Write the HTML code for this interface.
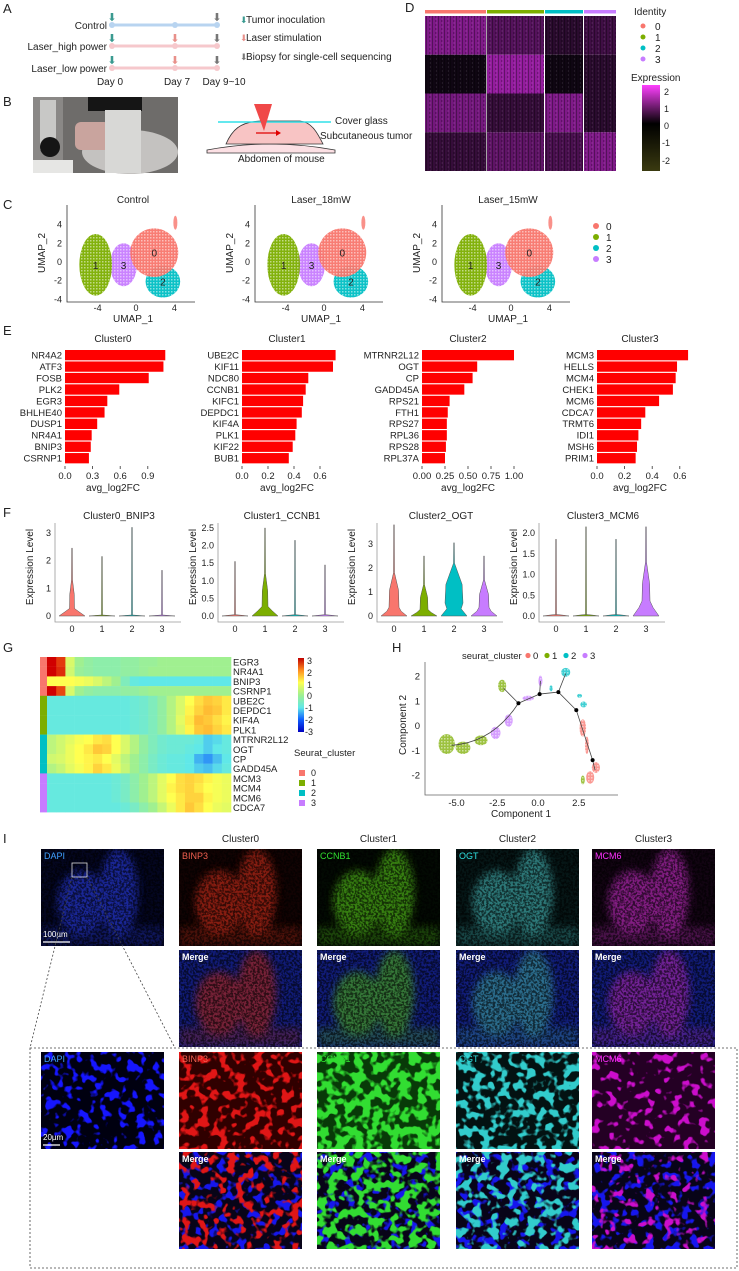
<!DOCTYPE html>
<html><head><meta charset="utf-8">
<style>
html,body{margin:0;padding:0;background:#fff;}
svg{display:block;font-family:"Liberation Sans",Arial,sans-serif;}
</style></head>
<body>
<svg id="fig" width="739" height="1271" viewBox="0 0 739 1271" xmlns="http://www.w3.org/2000/svg">
<defs>
  <pattern id="stripes" width="6" height="4" patternUnits="userSpaceOnUse">
    <rect x="0" y="0" width="1" height="4" fill="#000" opacity="0.35"/>
    <rect x="3" y="0" width="1" height="2" fill="#000" opacity="0.25"/>
    <rect x="4" y="2" width="1" height="2" fill="#fff" opacity="0.08"/>
  </pattern>
  <pattern id="speck" width="3" height="3" patternUnits="userSpaceOnUse">
    <rect width="1.5" height="1.5" fill="#fff" opacity="0.5"/>
  </pattern>
  <filter id="blur3"><feGaussianBlur stdDeviation="4"/></filter>
  <filter id="nFine" x="0" y="0" width="100%" height="100%">
    <feTurbulence type="fractalNoise" baseFrequency="0.45" numOctaves="2" seed="3"/>
    <feColorMatrix values="0 0 0 0 0  0 0 0 0 0  0 0 0 0 0  5 0 0 0 -2.0"/>
  </filter>
  <linearGradient id="exprBar" x1="0" y1="0" x2="0" y2="1">
    <stop offset="0" stop-color="#ff40ff"/><stop offset="0.45" stop-color="#000"/><stop offset="1" stop-color="#3a3a10"/>
  </linearGradient>
  <linearGradient id="gBar" x1="0" y1="0" x2="0" y2="1">
    <stop offset="0" stop-color="#c00000"/><stop offset="0.17" stop-color="#ff9020"/><stop offset="0.33" stop-color="#ffff50"/><stop offset="0.5" stop-color="#a0f090"/><stop offset="0.67" stop-color="#60e8e8"/><stop offset="0.83" stop-color="#1060ff"/><stop offset="1" stop-color="#0000c0"/>
  </linearGradient>
</defs>

<!-- Panel A -->
<g font-size="10" fill="#222">
  <text x="3" y="13" font-size="13">A</text>
  <line x1="112" y1="25" x2="217" y2="25" stroke="#b8d4f0" stroke-width="3"/>
  <line x1="112" y1="46" x2="217" y2="46" stroke="#f6c8cc" stroke-width="3"/>
  <line x1="112" y1="68" x2="217" y2="68" stroke="#f6c8cc" stroke-width="3"/>
  <g fill="#b8d4f0"><circle cx="112" cy="25" r="3"/><circle cx="175" cy="25" r="3"/><circle cx="217" cy="25" r="3"/></g>
  <g fill="#f6c8cc"><circle cx="112" cy="46" r="3"/><circle cx="175" cy="46" r="3"/><circle cx="217" cy="46" r="3"/><circle cx="112" cy="68" r="3"/><circle cx="175" cy="68" r="3"/><circle cx="217" cy="68" r="3"/></g>
  <g font-size="11" text-anchor="middle">
    <text x="112" y="21" fill="#3a9a90">⬇</text><text x="217" y="21" fill="#777">⬇</text>
    <text x="112" y="42" fill="#3a9a90">⬇</text><text x="175" y="42" fill="#e8908a">⬇</text><text x="217" y="42" fill="#777">⬇</text>
    <text x="112" y="64" fill="#3a9a90">⬇</text><text x="175" y="64" fill="#e8908a">⬇</text><text x="217" y="64" fill="#777">⬇</text>
  </g>
  <text x="107" y="29" text-anchor="end">Control</text>
  <text x="107" y="50" text-anchor="end">Laser_high power</text>
  <text x="107" y="72" text-anchor="end">Laser_low power</text>
  <text x="110" y="85" text-anchor="middle">Day 0</text>
  <text x="177" y="85" text-anchor="middle">Day 7</text>
  <text x="224" y="85" text-anchor="middle">Day 9~10</text>
  <text x="240" y="23" fill="#3a9a90" font-size="9">⬇</text><text x="246" y="23">Tumor inoculation</text>
  <text x="240" y="41" fill="#e8908a" font-size="9">⬇</text><text x="246" y="41">Laser stimulation</text>
  <text x="240" y="60" fill="#777" font-size="9">⬇</text><text x="246" y="60">Biopsy for single-cell sequencing</text>
</g>

<!-- Panel B -->
<g>
  <text x="3" y="106" font-size="13" fill="#222">B</text>
  <g>
    <rect x="33" y="97" width="145" height="76" fill="#6e6c6a"/>
    <rect x="88" y="97" width="54" height="14" fill="#151515"/>
    <rect x="33" y="97" width="30" height="76" fill="#8a8886"/>
    <rect x="40" y="100" width="16" height="50" fill="#c8c8c6"/>
    <circle cx="50" cy="147" r="10" fill="#151515"/>
    <ellipse cx="130" cy="152" rx="48" ry="22" fill="#c4c2c0"/>
    <rect x="75" y="122" width="35" height="28" fill="#c9a49e" rx="6"/>
    <rect x="105" y="110" width="36" height="63" fill="#d8d8d6"/>
    <rect x="33" y="160" width="40" height="13" fill="#e6e6e4"/>
  </g>
  <g>
    <path d="M207,150 Q270,138 335,150 L335,153 L207,153 Z" fill="#fce0e4" stroke="#333" stroke-width="0.8"/>
    <path d="M226,144 C232,130 240,122 260,121 L300,121 C312,122 318,134 323,144 Z" fill="#f8c4c4" stroke="#333" stroke-width="0.8"/>
    <line x1="218" y1="122" x2="331" y2="122" stroke="#30e0e8" stroke-width="1.5"/>
    <polygon points="254,104 272,104 264,131" fill="#f04848"/>
    <line x1="256" y1="133" x2="276" y2="133" stroke="#e00000" stroke-width="1.2"/>
    <polygon points="276,130 281,133 276,136" fill="#e00000"/>
    <text x="335" y="124" font-size="10" fill="#222">Cover glass</text>
    <text x="320" y="139" font-size="10" fill="#222">Subcutaneous tumor</text>
    <text x="238" y="162" font-size="10" fill="#222">Abdomen of mouse</text>
  </g>
</g>

<!-- Panel D -->
<g id="panelD">
  <text x="405" y="12" font-size="13" fill="#222">D</text>
  <text x="634" y="15" font-size="10" fill="#222">Identity</text>
  <text x="631" y="81" font-size="10" fill="#222">Expression</text>
  <rect x="642" y="85" width="18" height="86" fill="url(#exprBar)"/>
  <g font-size="9" fill="#222"><text x="664" y="95">2</text><text x="664" y="112">1</text><text x="664" y="129">0</text><text x="662" y="146">-1</text><text x="662" y="164">-2</text></g>
</g>

<g id="panelC">
  <text x="3" y="209" font-size="13" fill="#222">C</text>
</g>
<g id="panelE">
  <text x="3" y="335" font-size="13" fill="#222">E</text>
</g>
<g id="panelF">
  <text x="3" y="517" font-size="13" fill="#222">F</text>
</g>
<g id="panelG">
  <text x="3" y="652" font-size="13" fill="#222">G</text>
  <rect x="298" y="658" width="6" height="74" fill="url(#gBar)"/>
  <g font-size="9" fill="#222"><text x="307" y="664">3</text><text x="307" y="676">2</text><text x="307" y="688">1</text><text x="307" y="699">0</text><text x="305" y="711">-1</text><text x="305" y="723">-2</text><text x="305" y="735">-3</text></g>
  <text x="294" y="756" font-size="9.5" fill="#222">Seurat_cluster</text>
</g>
<g id="panelH">
  <text x="392" y="652" font-size="13" fill="#222">H</text>
</g>
<g id="panelI">
  <text x="3" y="843" font-size="13" fill="#222">I</text>
</g>
</svg>

<script>
const NS='http://www.w3.org/2000/svg';
function mk(tag,attrs,parent){const e=document.createElementNS(NS,tag);for(const k in attrs)e.setAttribute(k,attrs[k]);(parent||document.getElementById('fig')).appendChild(e);return e;}
function txt(s,attrs,parent){const e=mk('text',attrs,parent);e.textContent=s;return e;}
const CL=['#f8766d','#7cae00','#00bfc4','#c77cff'];

/* ===== Panel D ===== */
const dColGroups=[0,1,2,3];
const dColWidths=[62,58,39,33];
const dRowMeans=[[1.1,0.7,0.3,0.5],[0.05,1.3,0.05,0.3],[1.0,0.4,1.1,0.3],[0.4,0.8,0.6,1.1]];
(function(){
  const g=document.getElementById('panelD');
  const x0=425,y0=16,rh=38.75;
  let x=x0;
  dColGroups.forEach((c,ci)=>{
    const w=dColWidths[ci];
    const b=mk('rect',{x:x,y:10,width:w-1,height:3.5,fill:CL[c]},g);
    
    
    dRowMeans.forEach((row,ri)=>{
      const v=row[ci];const t=Math.min(1,v/1.6);
      const r=Math.round(10+t*170),gg=Math.round(5+t*30),bb=Math.round(12+t*180);
      const cell=mk('rect',{x:x,y:y0+ri*rh,width:w-1,height:rh,fill:`rgb(${r},${gg},${bb})`},g);
      
      
    });
    x+=w;
  });
  mk('rect',{x:x0,y:y0,width:192,height:155,fill:'url(#stripes)'},g);
  [0,1,2,3].forEach(i=>{
    const d=mk('circle',{cx:643,cy:26+i*11,r:2.5,fill:CL[i]},g);
    
    
    txt(String(i),{x:655,y:30+i*11,'font-size':10,fill:'#222'},g);
  });
})();

/* ===== Panel C ===== */
const umapTitles=['Control','Laser_18mW','Laser_15mW'];
const umapLefts=[67,255,442];
const clusterCx=[1.9,-4.2,2.8,-1.3];
const clusterCy=[1.0,-0.3,-2.1,-0.3];
const clusterRx=[2.5,1.7,1.8,1.4];
const clusterRy=[2.6,3.3,1.7,2.3];
const umapYTicks=[-4,-2,0,2,4];
const umapXTicks=[-4,0,4];
(function(){
  const g=document.getElementById('panelC');
  umapLefts.forEach((L,pi)=>{
    const sx=v=>L+69+v*9.6, sy=v=>262-v*9.35;
    txt(umapTitles[pi],{x:L+66,y:203,'text-anchor':'middle','font-size':10,fill:'#222'},g);
    const ax=mk('path',{d:`M${L},205 V302 H${L+128}`,stroke:'#333','stroke-width':0.8,fill:'none'},g);
    
    
    umapYTicks.forEach(t=>txt(String(t),{x:L-5,y:sy(t)+3,'text-anchor':'end','font-size':9,fill:'#222'},g));
    umapXTicks.forEach(t=>txt(String(t),{x:sx(t),y:311,'text-anchor':'middle','font-size':9,fill:'#222'},g));
    txt('UMAP_1',{x:L+66,y:322,'text-anchor':'middle','font-size':10,fill:'#222'},g);
    txt('UMAP_2',{x:0,y:0,'text-anchor':'middle','font-size':10,fill:'#222',transform:`translate(${L-22},253) rotate(-90)`},g);
    [2,3,0,1].forEach(c=>{
      const e=mk('ellipse',{cx:sx(clusterCx[c]),cy:sy(clusterCy[c]),rx:clusterRx[c]*9.6,ry:clusterRy[c]*9.35,fill:CL[c],opacity:0.95},g);
      
      
      mk('ellipse',{cx:sx(clusterCx[c]),cy:sy(clusterCy[c]),rx:clusterRx[c]*9.6,ry:clusterRy[c]*9.35,fill:'url(#speck)'},g);
    });
    mk('ellipse',{cx:sx(4.1),cy:sy(4.2),rx:2,ry:7,fill:CL[0],opacity:0.8},g);
    [1,3,0,2].forEach((c)=>txt(String(c),{x:sx(clusterCx[c]),y:sy(clusterCy[c])+4,'text-anchor':'middle','font-size':10,fill:'#222'},g));
  });
  [0,1,2,3].forEach(i=>{
    const d=mk('circle',{cx:596,cy:226+i*11,r:3,fill:CL[i]},g);
    
    
    txt(String(i),{x:606,y:230+i*11,'font-size':10,fill:'#222'},g);
  });
})();

/* ===== Panel E ===== */
const eTitles=['Cluster0','Cluster1','Cluster2','Cluster3'];
const eGenes0=['NR4A2','ATF3','FOSB','PLK2','EGR3','BHLHE40','DUSP1','NR4A1','BNIP3','CSRNP1'];
const eVals0=[1.09,1.07,0.91,0.59,0.46,0.43,0.35,0.29,0.28,0.26];
const eGenes1=['UBE2C','KIF11','NDC80','CCNB1','KIFC1','DEPDC1','KIF4A','PLK1','KIF22','BUB1'];
const eVals1=[0.72,0.70,0.51,0.49,0.47,0.46,0.42,0.41,0.39,0.36];
const eGenes2=['MTRNR2L12','OGT','CP','GADD45A','RPS21','FTH1','RPS27','RPL36','RPS28','RPL37A'];
const eVals2=[1.0,0.6,0.55,0.46,0.3,0.28,0.27,0.27,0.26,0.25];
const eGenes3=['MCM3','HELLS','MCM4','CHEK1','MCM6','CDCA7','TRMT6','IDI1','MSH6','PRIM1'];
const eVals3=[0.66,0.58,0.57,0.55,0.45,0.35,0.32,0.30,0.29,0.28];
const eTicks0=[0,0.3,0.6,0.9], eTickLabels0=['0.0','0.3','0.6','0.9'];
const eTicks1=[0,0.2,0.4,0.6], eTickLabels1=['0.0','0.2','0.4','0.6'];
const eTicks2=[0,0.25,0.5,0.75,1], eTickLabels2=['0.00','0.25','0.50','0.75','1.00'];
const eTicks3=[0,0.2,0.4,0.6], eTickLabels3=['0.0','0.2','0.4','0.6'];
(function(){
  const g=document.getElementById('panelE');
  const cfg=[[65,92,eGenes0,eVals0,eTicks0,eTickLabels0,113],[242,130,eGenes1,eVals1,eTicks1,eTickLabels1,287],[422,92,eGenes2,eVals2,eTicks2,eTickLabels2,468],[597,138,eGenes3,eVals3,eTicks3,eTickLabels3,640]];
  cfg.forEach((c,pi)=>{
    const [x0,k,genes,vals,ticks,tl,cx]=c;
    const sx=v=>x0+v*k;
    txt(eTitles[pi],{x:cx,y:342,'text-anchor':'middle','font-size':10,fill:'#222'},g);
    genes.forEach((gn,i)=>{
      const y=350+i*11.45;
      const b=mk('rect',{x:sx(0),y:y,width:sx(vals[i])-sx(0),height:10.3,fill:'#ff0000'},g);
      
      
      txt(gn,{x:x0-3,y:y+8.5,'text-anchor':'end','font-size':9.5,fill:'#222'},g);
    });
    ticks.forEach((t,i)=>{
      mk('line',{x1:sx(t),y1:466,x2:sx(t),y2:469,stroke:'#333','stroke-width':0.8},g);
      txt(tl[i],{x:sx(t),y:479,'text-anchor':'middle','font-size':9.5,fill:'#222'},g);
    });
    txt('avg_log2FC',{x:cx,y:491,'text-anchor':'middle','font-size':10,fill:'#222'},g);
  });
})();

/* ===== Panel F ===== */
const fTitles=['Cluster0_BNIP3','Cluster1_CCNB1','Cluster2_OGT','Cluster3_MCM6'];
const fMax0=[2.45,2.15,3.2,1.65], fBody0=[1.3,0.05,0.05,0.05], fBodyW0=[2.5,0.5,0.5,0.5], fBase0=[0.15,0.02,0.02,0.02];
const fMax1=[1.55,2.5,2.15,1.45], fBody1=[0.05,1.2,0.05,0.05], fBodyW1=[0.5,3,0.5,0.5], fBase1=[0.02,0.15,0.02,0.02];
const fMax2=[3.8,2.5,3.05,2.5], fBody2=[1.8,1.3,2.2,1.5], fBodyW2=[5,4,9,5], fBase2=[0.2,0.15,0.3,0.2];
const fMax3=[1.85,2.15,1.85,2.15], fBody3=[0.05,0.05,0.05,1.3], fBodyW3=[0.5,0.5,0.5,4], fBase3=[0.02,0.02,0.02,0.2];
const fYT0=[0,1,2,3], fYL0=['0','1','2','3'];
const fYT1=[0,0.5,1,1.5,2,2.5], fYL1=['0.0','0.5','1.0','1.5','2.0','2.5'];
const fYT2=[0,1,2,3], fYL2=['0','1','2','3'];
const fYT3=[0,0.5,1,1.5,2], fYL3=['0.0','0.5','1.0','1.5','2.0'];
const fCats=['0','1','2','3'];
(function(){
  const g=document.getElementById('panelF');
  const cfg=[[55,27.7,fMax0,fBody0,fBodyW0,fBase0,fYT0,fYL0],[218,35.2,fMax1,fBody1,fBodyW1,fBase1,fYT1,fYL1],[377,24,fMax2,fBody2,fBodyW2,fBase2,fYT2,fYL2],[539,41.5,fMax3,fBody3,fBodyW3,fBase3,fYT3,fYL3]];
  cfg.forEach((c,pi)=>{
    const [L,k,mx,bd,bw,bs,yt,yl]=c;
    const sy=v=>616-v*k, sx=i=>L+17+i*30;
    txt(fTitles[pi],{x:L+64,y:519,'text-anchor':'middle','font-size':10,fill:'#222'},g);
    const ax=mk('path',{d:`M${L},523 V622 H${L+126}`,stroke:'#999','stroke-width':0.8,fill:'none'},g);
    
    
    yt.forEach((t,i)=>txt(yl[i],{x:L-4,y:sy(t)+3,'text-anchor':'end','font-size':9,fill:'#222'},g));
    fCats.forEach((cn,i)=>txt(cn,{x:sx(i),y:632,'text-anchor':'middle','font-size':9,fill:'#222'},g));
    txt('Expression Level',{x:0,y:0,'text-anchor':'middle','font-size':10,fill:'#222',transform:`translate(${L-22},567) rotate(-90)`},g);
    fCats.forEach((cn,i)=>{
      const x=sx(i), W=13;
      const pts=[[0,W],[bs[i],W*0.55],[bs[i]*1.8,bw[i]],[bd[i]*0.6,bw[i]*0.9],[bd[i],0.5],[mx[i],0.3]];
      let d='M'+x+','+sy(0);
      pts.forEach(p=>d+=' L'+(x+p[1])+','+sy(p[0]));
      pts.slice().reverse().forEach(p=>d+=' L'+(x-p[1])+','+sy(p[0]));
      d+='Z';
      const v=mk('path',{d:d,fill:CL[i],stroke:'#555','stroke-width':0.5},g);
      
      
    });
  });
})();

/* ===== Panel G ===== */
const gGenes=['EGR3','NR4A1','BNIP3','CSRNP1','UBE2C','DEPDC1','KIF4A','PLK1','MTRNR2L12','OGT','CP','GADD45A','MCM3','MCM4','MCM6','CDCA7'];
const gRowCluster=[0,0,0,0,1,1,1,1,2,2,2,2,3,3,3,3];
const gR0=[3,2.6,0.6,0,-0.2,-0.3,-0.3,-0.3,-0.2,-0.2,-0.1,-0.1,0,0,0,0,0,0,0,0];
const gR1=[3,2.7,0.5,-0.1,-0.2,-0.3,-0.3,-0.3,-0.2,-0.2,-0.1,0,0,0,0,0,0,0,0,0];
const gR2=[1,1,1,0.9,0.8,0.6,0.3,0,-0.5,-0.9,-1,-1,-1,-1,-1,-1,-1,-1,-1,-1];
const gR3=[3,2.5,0.6,0,-0.2,-0.3,-0.3,-0.3,-0.2,-0.2,-0.1,0,0,0,0,0,0,0,0,0];
const gR4=[-0.9,-0.9,-0.9,-0.9,-0.9,-0.9,-0.9,-0.9,-0.9,-0.8,-0.7,-0.5,-0.2,0.2,0.6,1,1.3,1.5,1.4,1.2];
const gR5=[-0.9,-0.9,-0.9,-0.9,-0.9,-0.9,-0.9,-0.9,-0.9,-0.8,-0.7,-0.5,-0.2,0.2,0.6,1.1,1.4,1.6,1.5,1.2];
const gR6=[-0.9,-0.9,-0.9,-0.9,-0.9,-0.9,-0.9,-0.9,-0.9,-0.8,-0.7,-0.5,-0.2,0.2,0.7,1.2,1.6,1.5,1.3,1.1];
const gR7=[-0.9,-0.9,-0.9,-0.9,-0.9,-0.9,-0.9,-0.9,-0.9,-0.8,-0.7,-0.5,-0.2,0.2,0.6,1.1,1.5,1.6,1.4,1.2];
const gR8=[0.3,0.5,0.7,0.9,1.0,1.2,1.3,1.0,0.6,0.2,-0.2,-0.5,-0.7,-0.8,-0.8,-0.8,-0.9,-1.2,-1.1,-0.9];
const gR9=[0.3,0.5,0.8,1.0,1.2,1.5,1.4,1.0,0.6,0.2,-0.2,-0.5,-0.7,-0.8,-0.8,-0.9,-1.0,-1.2,-1.0,-0.9];
const gR10=[0.5,0.6,0.8,1.0,1.1,1.2,1.0,0.7,0.3,0,-0.3,-0.6,-0.8,-0.9,-0.9,-1,-1.4,-1.6,-1.3,-1];
const gR11=[0.2,0.4,0.7,0.9,1.1,1.4,1.2,0.8,0.4,0,-0.3,-0.6,-0.8,-0.9,-0.9,-1,-1.2,-1.3,-1.1,-0.9];
const gR12=[-0.9,-0.9,-0.9,-0.9,-0.9,-0.9,-0.9,-0.8,-0.6,-0.3,0,0.3,0.7,1,1.3,1.4,1.3,1.1,0.9,0.8];
const gR13=[-0.9,-0.9,-0.9,-0.9,-0.9,-0.9,-0.9,-0.8,-0.6,-0.3,0,0.3,0.7,1.1,1.3,1.4,1.2,1.0,0.9,0.8];
const gR14=[-0.9,-0.9,-0.9,-0.9,-0.9,-0.9,-0.9,-0.8,-0.6,-0.3,0,0.3,0.7,1,1.2,1.4,1.4,1.1,0.9,0.8];
const gR15=[-0.9,-0.9,-0.9,-0.9,-0.9,-0.9,-0.9,-0.9,-0.8,-0.6,-0.3,0,0.4,0.8,1.2,1.5,1.3,1.0,0.8,0.7];
const gRows=[gR0,gR1,gR2,gR3,gR4,gR5,gR6,gR7,gR8,gR9,gR10,gR11,gR12,gR13,gR14,gR15];
function gColor(v){
  const st=[[-3,[0,0,204]],[-2,[16,96,255]],[-1,[96,232,232]],[0,[160,240,144]],[1,[255,255,80]],[2,[255,144,32]],[3,[208,0,0]]];
  v=Math.max(-3,Math.min(3,v));
  for(let i=0;i<st.length-1;i++){if(v<=st[i+1][0]){const t=(v-st[i][0]);const a=st[i][1],b=st[i+1][1];return `rgb(${Math.round(a[0]+(b[0]-a[0])*t)},${Math.round(a[1]+(b[1]-a[1])*t)},${Math.round(a[2]+(b[2]-a[2])*t)})`;}}
  return 'rgb(208,0,0)';
}
(function(){
  const g=document.getElementById('panelG');
  const x0=47,y0=657,rh=9.7,cw=184/20;
  gRows.forEach((row,ri)=>{
    const s=mk('rect',{x:40,y:y0+ri*rh,width:7,height:rh+0.2,fill:CL[gRowCluster[ri]]},g);
    
    
    row.forEach((v,ci)=>{
      const c=mk('rect',{x:x0+ci*cw,y:y0+ri*rh,width:cw+0.3,height:rh+0.2,fill:gColor(v)},g);
      
      
    });
    txt(gGenes[ri],{x:233,y:y0+ri*rh+8.5,'font-size':9.5,fill:'#222'},g);
  });
  [0,1,2,3].forEach(i=>{
    const r=mk('rect',{x:299,y:770+i*10,width:6,height:6,fill:CL[i]},g);
    
    
    txt(String(i),{x:311,y:776+i*10,'font-size':9,fill:'#222'},g);
  });
})();

/* ===== Panel H ===== */
const hNodeX=[-1.2,0.1,1.25,2.35,3.35];
const hNodeY=[0.9,1.27,1.35,0.62,-1.4];
const hBlobX=[-5.6,-4.6,-3.5,-2.6,-1.8,-2.2,0.15,1.7,0.8,2.8,2.55,2.75,3.0,3.55,3.2,2.75,-0.6];
const hBlobY=[-0.75,-0.9,-0.6,-0.3,0.2,1.6,1.8,2.15,1.5,0.85,1.2,-0.1,-0.8,-1.7,-2.1,-2.2,1.1];
const hBlobRx=[0.5,0.45,0.4,0.3,0.25,0.25,0.12,0.28,0.1,0.2,0.15,0.2,0.12,0.25,0.25,0.12,0.35];
const hBlobRy=[0.4,0.25,0.2,0.25,0.25,0.25,0.22,0.18,0.12,0.12,0.08,0.35,0.35,0.22,0.25,0.18,0.1];
const hBlobC=[1,1,1,3,3,1,3,2,2,2,2,0,0,0,0,1,3];
const hXT=[-5,-2.5,0,2.5], hXL=['-5.0','-2.5','0.0','2.5'];
const hYT=[-2,-1,0,1,2];
(function(){
  const g=document.getElementById('panelH');
  const sx=v=>538+v*16.3, sy=v=>725.5-v*24.75;
  const ax=mk('path',{d:'M425,662 V795 H618',stroke:'#666','stroke-width':0.8,fill:'none'},g);
  
  
  hYT.forEach(t=>txt(String(t),{x:420,y:sy(t)+3.5,'text-anchor':'end','font-size':9.5,fill:'#222'},g));
  hXT.forEach((t,i)=>txt(hXL[i],{x:sx(t),y:806,'text-anchor':'middle','font-size':9.5,fill:'#222'},g));
  txt('Component 1',{x:521,y:817,'text-anchor':'middle','font-size':10,fill:'#222'},g);
  txt('Component 2',{x:0,y:0,'text-anchor':'middle','font-size':10,fill:'#222',transform:'translate(406,725) rotate(-90)'},g);
  txt('seurat_cluster',{x:462,y:659,'font-size':9.5,fill:'#222'},g);
  [0,1,2,3].forEach(i=>{
    const d=mk('circle',{cx:528+i*19,cy:655.5,r:2.6,fill:CL[i]},g);
    
    
    txt(String(i),{x:533+i*19,y:659,'font-size':9.5,fill:'#222'},g);
  });
  hBlobX.forEach((x,i)=>{
    const e=mk('ellipse',{cx:sx(x),cy:sy(hBlobY[i]),rx:hBlobRx[i]*16.3,ry:hBlobRy[i]*24.75,fill:CL[hBlobC[i]],opacity:0.75},g);
    
    
    mk('ellipse',{cx:sx(x),cy:sy(hBlobY[i]),rx:hBlobRx[i]*16.3,ry:hBlobRy[i]*24.75,fill:'url(#speck)'},g);
  });
  const p=mk('path',{d:`M${sx(-5.3)},${sy(-0.8)} Q${sx(-2.8)},${sy(-0.7)} ${sx(hNodeX[0])},${sy(hNodeY[0])} L${sx(hNodeX[1])},${sy(hNodeY[1])} L${sx(hNodeX[2])},${sy(hNodeY[2])} L${sx(hNodeX[3])},${sy(hNodeY[3])} L${sx(hNodeX[4])},${sy(hNodeY[4])} L${sx(3.5)},${sy(-1.8)} M${sx(hNodeX[0])},${sy(hNodeY[0])} L${sx(-2.1)},${sy(1.5)} M${sx(hNodeX[1])},${sy(hNodeY[1])} L${sx(0.15)},${sy(1.8)} M${sx(hNodeX[2])},${sy(hNodeY[2])} L${sx(1.7)},${sy(2.1)}`,stroke:'#444','stroke-width':0.8,fill:'none'},g);
  
  
  hNodeX.forEach((x,i)=>{
    const n=mk('circle',{cx:sx(x),cy:sy(hNodeY[i]),r:2,fill:'#000'},g);
    
    
  });
})();

/* ===== Panel I ===== */
(function(){
  const g=document.getElementById('panelI');
  const colX=[41,179,317,456,592], rowY=[849,950,1052,1152], W=123, H=97;
  const colTitles=['Cluster0','Cluster1','Cluster2','Cluster3'];
  colTitles.forEach((t,i)=>txt(t,{x:colX[i+1]+W/2,y:842,'text-anchor':'middle','font-size':10,fill:'#222'},g));
  const markers=['DAPI','BINP3','CCNB1','OGT','MCM6'];
  const mColors=['#2030c0','#b02818','#48a818','#3a9a9a','#a828a8'];
  const mBg=['#040620','#120303','#030a03','#061616','#120412'];
  const zColors=['#1414ff','#e01414','#30dd30','#30cccc','#cc10cc'];
  const zBg=['#000010','#300000','#083a08','#031212','#240024'];
  const zOff=[4.8,4.6,4.0,4.4,5.0];
  const lblCol=['#40a0ff','#f06050','#30e030','#30e0e0','#ff30ff'];
  let cid=0;
  function clipRect(x,y){cid++;const cp=mk('clipPath',{id:'cp'+cid},g);mk('rect',{x:x,y:y,width:W,height:H},cp);return 'url(#cp'+cid+')';}
  function tissue(x,y,bg,col,overBlue){
    const gg=mk('g',{'clip-path':clipRect(x,y)},g);
    mk('rect',{x:x,y:y,width:W,height:H,fill:bg},gg);
    if(overBlue) mk('rect',{x:x,y:y,width:W,height:H,fill:'#1828a0',opacity:0.6},gg);
    const lobes=mk('g',{filter:'url(#blur3)',opacity:overBlue?0.65:0.75},gg);
    mk('ellipse',{cx:x+0.33*W,cy:y+0.55*H,rx:0.2*W,ry:0.33*H,fill:col},lobes);
    mk('ellipse',{cx:x+0.63*W,cy:y+0.45*H,rx:0.16*W,ry:0.45*H,fill:col},lobes);
    mk('rect',{x:x,y:y+0.8*H,width:W,height:0.2*H,fill:col,opacity:0.5},lobes);
    mk('rect',{x:x,y:y,width:W,height:H,filter:'url(#nFine)',opacity:0.6},gg);
    return gg;
  }
  function noiseLayer(gg,x,y,col,off,seed,op){
    const fid='fc'+(++cid);
    const f=mk('filter',{id:fid,x:0,y:0,width:'100%',height:'100%'},g);
    mk('feTurbulence',{type:'fractalNoise',baseFrequency:'0.11',numOctaves:'2',seed:String(seed),result:'n'},f);
    mk('feColorMatrix',{in:'n',values:'0 0 0 0 0  0 0 0 0 0  0 0 0 0 0  9 0 0 0 -'+off,result:'a'},f);
    mk('feFlood',{'flood-color':col,result:'c'},f);
    mk('feComposite',{in:'c',in2:'a',operator:'in'},f);
    mk('rect',{x:x,y:y,width:W,height:H,filter:'url(#'+fid+')',opacity:op},gg);
  }
  function cells(x,y,bg,col,off,blue,seed){
    const gg=mk('g',{'clip-path':clipRect(x,y)},g);
    mk('rect',{x:x,y:y,width:W,height:H,fill:bg},gg);
    if(blue) noiseLayer(gg,x,y,'#1818ee',4.8,seed+11,1);
    noiseLayer(gg,x,y,col,off,seed,1);
    return gg;
  }
  function label(x,y,s,c,bold){txt(s,{x:x+3,y:y+10,'font-size':9,fill:c,'font-weight':bold?'bold':'normal'},g);}
  function named(e,n){}
  markers.forEach((m,i)=>{
    const e=tissue(colX[i],rowY[0],mBg[i],mColors[i],false);
    named(e,'image-'+m.toLowerCase()+'-overview');
    label(colX[i],rowY[0],m,lblCol[i],false);
  });
  for(let i=1;i<5;i++){
    const e=tissue(colX[i],rowY[1],'#080c40',mColors[i],true);
    named(e,'image-merge-'+markers[i].toLowerCase()+'-overview');
    label(colX[i],rowY[1],'Merge','#fff',true);
  }
  markers.forEach((m,i)=>{
    const e=cells(colX[i],rowY[2],zBg[i],zColors[i],zOff[i],false,3+i);
    named(e,'image-'+m.toLowerCase()+'-zoom');
    label(colX[i],rowY[2],m,lblCol[i],false);
  });
  for(let i=1;i<5;i++){
    const e=cells(colX[i],rowY[3],'#080418',zColors[i],zOff[i]+0.2,true,9+i);
    named(e,'image-merge-'+markers[i].toLowerCase()+'-zoom');
    label(colX[i],rowY[3],'Merge','#fff',true);
  }
  txt('100µm',{x:43,y:937,'font-size':8,fill:'#fff'},g);
  mk('line',{x1:43,y1:942,x2:70,y2:942,stroke:'#fff','stroke-width':1.2},g);
  txt('20µm',{x:43,y:1140,'font-size':8,fill:'#fff'},g);
  mk('line',{x1:43,y1:1145,x2:60,y2:1145,stroke:'#fff','stroke-width':1.2},g);
  const zb=mk('rect',{x:72,y:863,width:15,height:14,fill:'none',stroke:'#ddd','stroke-width':0.8},g);
  named(zb,'zoom-region-box');
  mk('path',{d:'M72,877 L30,1048 M87,877 L175,1048',stroke:'#444','stroke-width':0.8,'stroke-dasharray':'2,2',fill:'none'},g);
  const db=mk('rect',{x:30,y:1048,width:707,height:220,fill:'none',stroke:'#444','stroke-width':0.8,'stroke-dasharray':'2,2'},g);
  named(db,'zoom-dotted-frame');
})();
</script>
</body></html>
